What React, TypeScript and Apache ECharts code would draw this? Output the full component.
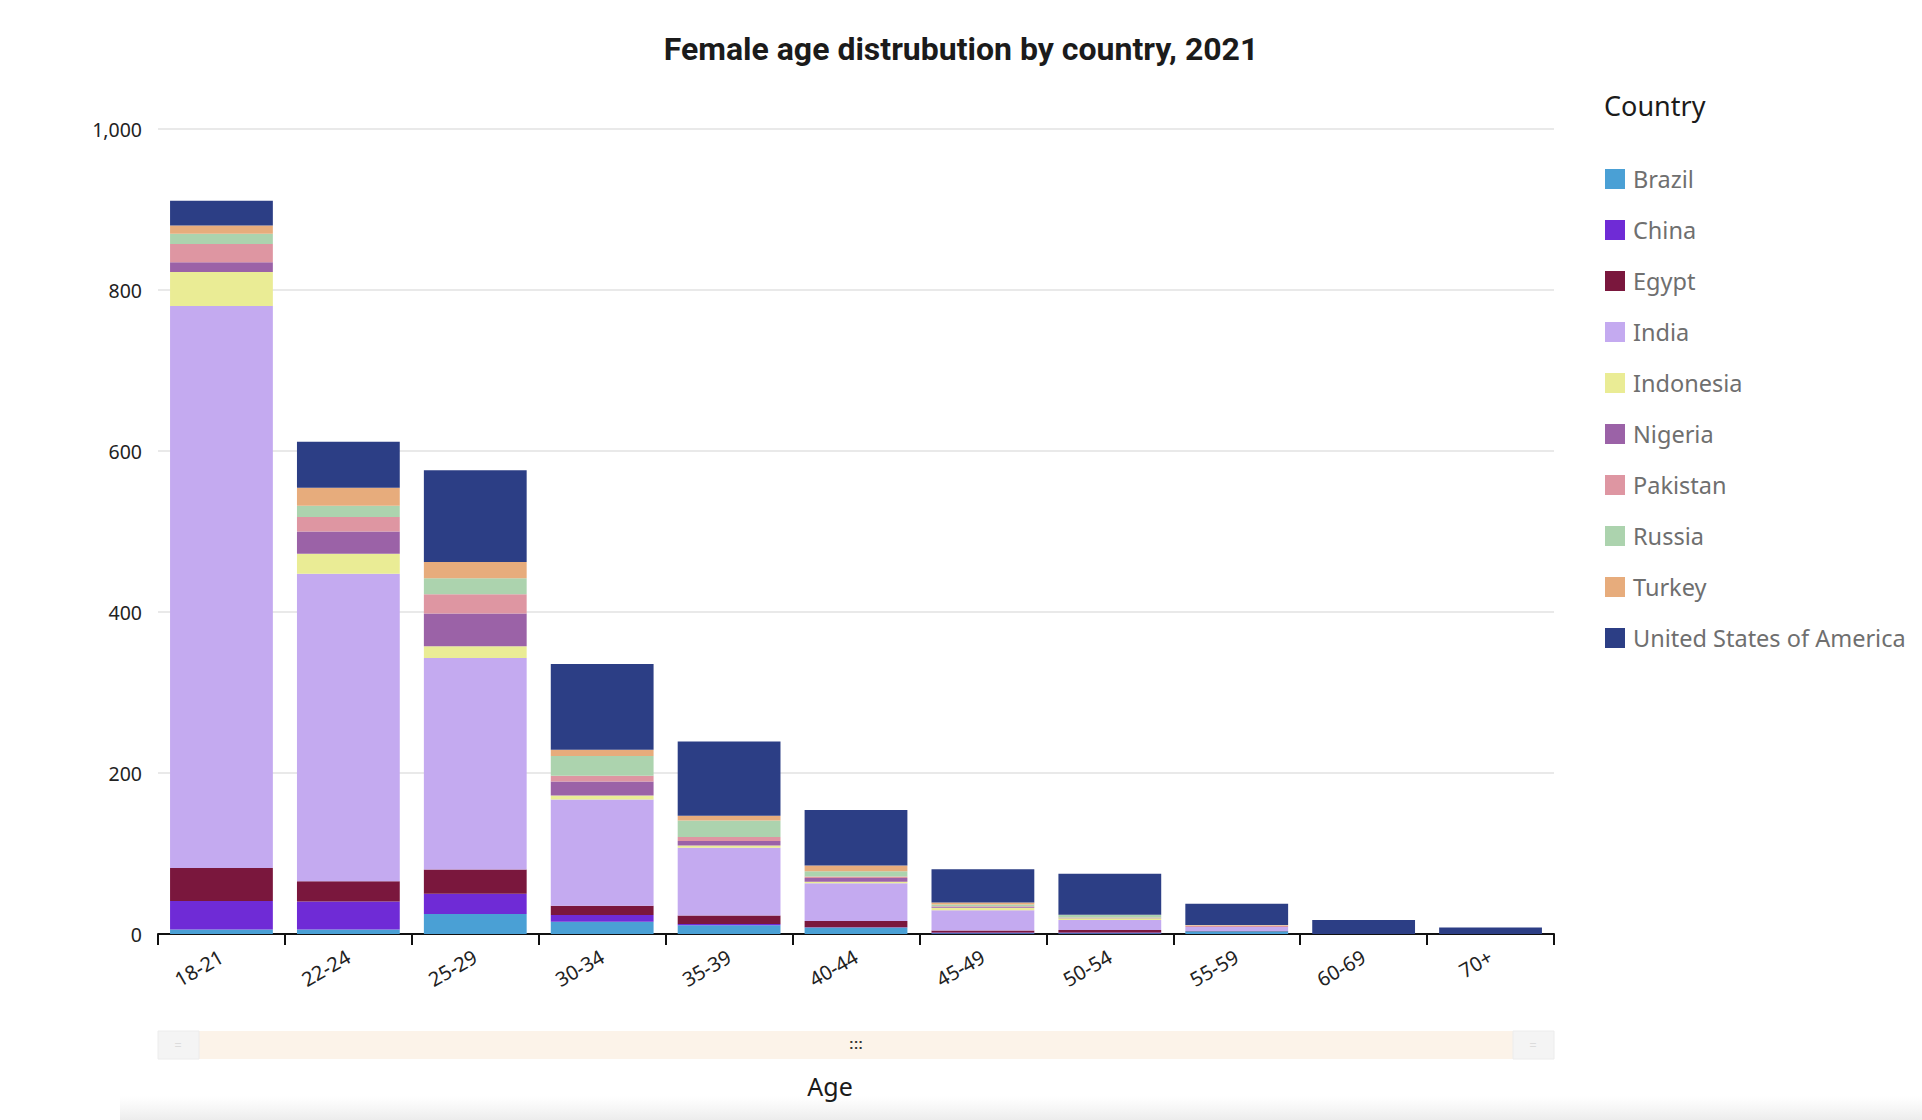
import { useEffect, useRef } from 'react';
import * as echarts from 'echarts';

const ageGroups = ['18-21', '22-24', '25-29', '30-34', '35-39', '40-44', '45-49', '50-54', '55-59', '60-69', '70+'];

const countries = ['Brazil', 'China', 'Egypt', 'India', 'Indonesia', 'Nigeria', 'Pakistan', 'Russia', 'Turkey', 'United States of America'];

// values per country, one entry per age group
const brazil = [5.5, 5.5, 25, 15.3, 11, 8, 1, 1, 3.3, 0, 0];
const china = [35.5, 35, 25, 8.3, 1.5, 0.5, 1, 1, 0.2, 0, 0];
const egypt = [41, 25, 30, 11.4, 10.5, 7.5, 2.5, 3, 0.2, 0, 0];
const india = [698, 382, 263, 132, 84, 47, 25, 12.5, 5, 0, 0];
const indonesia = [42.5, 25, 14.5, 5, 3, 2, 3, 2, 0, 0, 0];
const nigeria = [12, 27.5, 40.5, 17.5, 5.5, 4.5, 1, 0.5, 0, 0, 0];
const pakistan = [22.5, 18, 24, 7, 5, 2, 1, 0.5, 1.5, 0, 0];
const russia = [13, 14, 20, 24.5, 20.5, 6.5, 2, 3, 0.5, 0, 0];
const turkey = [10, 22.5, 20, 8, 6, 7, 2.5, 0.5, 0.5, 0, 0];
const usa = [31, 57, 114, 106.5, 92, 69, 41.5, 51, 26.5, 17.5, 8];

const seriesValues = [brazil, china, egypt, india, indonesia, nigeria, pakistan, russia, turkey, usa];

const colors = ['#4aa0d5', '#6f2bd6', '#7a173d', '#c4aaf0', '#eaec95', '#9b62a7', '#de96a2', '#acd3ae', '#e7ac7c', '#2c3e85'];

const yTicks = { min: 0, max: 1000, interval: 200 };

const FONT = "'Noto Sans', sans-serif";

export default function App() {
  const chartRef = useRef<HTMLDivElement>(null);

  useEffect(() => {
    document.body.style.margin = '0';
    if (!chartRef.current) return;
    const chart = echarts.init(chartRef.current, undefined, { renderer: 'svg' });

    const option: echarts.EChartsOption = {
      animation: false,
      backgroundColor: '#ffffff',
      color: colors,
      title: [
        {
          text: 'Female age distrubution by country, 2021',
          left: 'center',
          top: 28,
          textStyle: { fontFamily: 'Roboto', fontWeight: 'bold', fontSize: 32, color: '#1b1b1b' },
        },
        {
          text: 'Country',
          left: 1599,
          top: 87,
          textStyle: { fontFamily: FONT, fontWeight: 'normal', fontSize: 27, color: '#1b1b1b' },
        },
      ],
      legend: {
        orient: 'vertical',
        left: 1600,
        top: 162,
        itemWidth: 20,
        itemHeight: 20,
        itemGap: 27,
        icon: 'rect',
        data: countries,
        textStyle: { fontFamily: FONT, fontSize: 23.5, color: '#6f6f6f', padding: [0, 0, 0, 3] },
      },
      grid: { left: 158, right: 368, top: 129, bottom: 186 },
      xAxis: {
        type: 'category',
        data: ageGroups,
        name: 'Age',
        nameLocation: 'middle',
        nameGap: 139,
        nameTextStyle: { fontFamily: FONT, fontSize: 25, color: '#1b1b1b', padding: [0, 52, 0, 0] },
        axisLine: { lineStyle: { color: '#111', width: 2 } },
        axisTick: { show: true, length: 11, lineStyle: { color: '#111', width: 2 } },
        axisLabel: { rotate: 30, margin: 21, fontFamily: FONT, fontSize: 20, color: '#222' },
      },
      yAxis: {
        type: 'value',
        min: yTicks.min,
        max: yTicks.max,
        interval: yTicks.interval,
        axisLine: { show: false },
        axisTick: { show: false },
        splitLine: { lineStyle: { color: '#e2e2e2', width: 1.5 } },
        axisLabel: {
          margin: 16,
          fontFamily: FONT,
          fontSize: 19.5,
          color: '#222',
          formatter: (v: number) => v.toLocaleString('en-US'),
        },
      },
      series: countries.map((name, i) => ({
        name,
        type: 'bar' as const,
        stack: 'total',
        barWidth: '81%',
        data: seriesValues[i],
        itemStyle: { color: colors[i] },
      })),
      graphic: [
        {
          type: 'rect',
          shape: { x: 158, y: 1031, width: 1396, height: 28 },
          style: { fill: '#fcf3e9' },
        },
        {
          type: 'rect',
          shape: { x: 158, y: 1031, width: 41, height: 28 },
          style: { fill: '#f4f4f4', stroke: '#ececec' },
        },
        {
          type: 'rect',
          shape: { x: 1513, y: 1031, width: 41, height: 28 },
          style: { fill: '#f4f4f4', stroke: '#ececec' },
        },
        {
          type: 'text',
          x: 178,
          y: 1045,
          style: { text: '=', fill: '#dcdcdc', fontSize: 12, align: 'center', verticalAlign: 'middle' },
        },
        {
          type: 'text',
          x: 1533,
          y: 1045,
          style: { text: '=', fill: '#dcdcdc', fontSize: 12, align: 'center', verticalAlign: 'middle' },
        },
        {
          type: 'text',
          x: 856,
          y: 1044,
          style: { text: ':::', fill: '#333', fontSize: 14, fontWeight: 'bold', align: 'center', verticalAlign: 'middle' },
        },
        {
          type: 'rect',
          shape: { x: 120, y: 1096, width: 1802, height: 24 },
          style: {
            fill: new echarts.graphic.LinearGradient(0, 0, 0, 1, [
              { offset: 0, color: 'rgba(240,240,240,0)' },
              { offset: 1, color: 'rgba(236,236,236,1)' },
            ]),
          },
          z: -1,
        },
      ],
    };

    chart.setOption(option);
    return () => {
      chart.dispose();
    };
  }, []);

  return <div ref={chartRef} style={{ width: '1922px', height: '1120px' }} />;
}
